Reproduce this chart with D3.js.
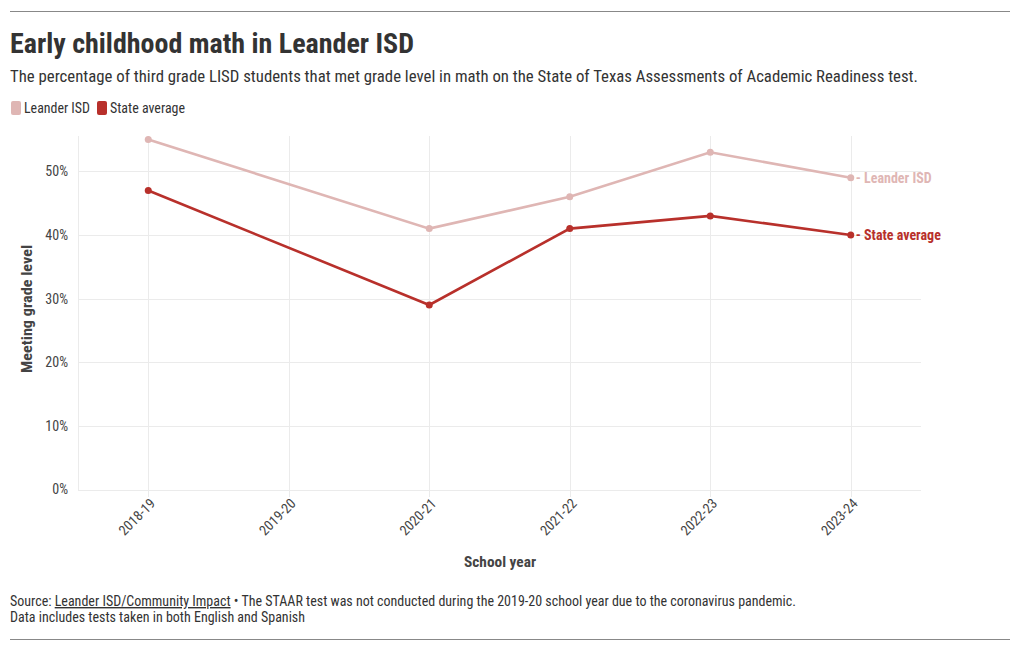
<!DOCTYPE html>
<html><head><meta charset="utf-8">
<script src="https://cdn.jsdelivr.net/npm/d3@7"></script>
<style>
body{margin:0;background:#fff;}
svg text{font-family:"Roboto Condensed","Liberation Sans Narrow",Roboto,sans-serif;}
</style></head>
<body><svg id="c" width="1020" height="650"></svg>
<script>
const categories = ["2018-19","2019-20","2020-21","2021-22","2022-23","2023-24"];
const leanderYears = ["2018-19","2020-21","2021-22","2022-23","2023-24"];
const leanderValues = [55,41,46,53,49];
const stateYears = ["2018-19","2020-21","2021-22","2022-23","2023-24"];
const stateValues = [47,29,41,43,40];
const yTicks = [0,10,20,30,40,50];
const seriesNames = ["Leander ISD","State average"];
const seriesColors = ["#dfb6b4","#b8302b"];

const svg = d3.select("#c");
function fit(sel, w){ sel.attr("textLength", w).attr("lengthAdjust","spacingAndGlyphs"); }

svg.append("line").attr("x1",10).attr("x2",1010).attr("y1",11.5).attr("y2",11.5).attr("stroke","#888").attr("stroke-width",1);
svg.append("line").attr("x1",10).attr("x2",1010).attr("y1",639.5).attr("y2",639.5).attr("stroke","#888").attr("stroke-width",1);

svg.append("text").attr("x",10).attr("y",53).attr("font-size",28).attr("font-weight",700).attr("fill","#333")
  .text("Early childhood math in Leander ISD").call(fit,404);
svg.append("text").attr("x",10).attr("y",82).attr("font-size",16).attr("fill","#333")
  .text("The percentage of third grade LISD students that met grade level in math on the State of Texas Assessments of Academic Readiness test.").call(fit,908);

const legX = [11,97];
const legW = [79,88];
seriesNames.forEach((n,i)=>{
  svg.append("rect").attr("x",legX[i]).attr("y",101).attr("width",10).attr("height",14).attr("rx",2).attr("fill",seriesColors[i]);
  svg.append("text").attr("x",legX[i]+13).attr("y",113).attr("font-size",14).attr("fill","#333").text(n).call(fit,legW[i]-13);
});

const x = d3.scalePoint().domain(categories).range([78,921]).padding(0.5);
const y = d3.scaleLinear().domain([0,55.4]).range([489.5,137]);

const g = svg.append("g");
g.selectAll(".hg").data(yTicks).join("line").attr("x1",78).attr("x2",921)
  .attr("y1",d=>Math.round(y(d))+0.5).attr("y2",d=>Math.round(y(d))+0.5).attr("stroke","#ebebeb");
g.selectAll(".vg").data(categories).join("line").attr("y1",136).attr("y2",497)
  .attr("x1",d=>Math.round(x(d))+0.5).attr("x2",d=>Math.round(x(d))+0.5).attr("stroke","#ebebeb");
g.append("line").attr("x1",78.5).attr("x2",78.5).attr("y1",136).attr("y2",490).attr("stroke","#ebebeb");

const yAxis = g.append("g").attr("transform","translate(78,0)")
  .call(d3.axisLeft(y).tickValues(yTicks).tickFormat(d=>d+"%").tickSize(0).tickPadding(10));
yAxis.select(".domain").remove();
yAxis.selectAll("text").attr("font-size",14).attr("fill","#444").attr("font-family",null);

const xAxis = g.append("g").attr("transform","translate(0,497)")
  .call(d3.axisBottom(x).tickSize(0).tickPadding(0));
xAxis.select(".domain").remove();
xAxis.selectAll("text").attr("font-size",14).attr("fill","#444").attr("font-family",null)
  .attr("text-anchor","end").attr("dy","0.35em").attr("transform","translate(4,4) rotate(-45)");

svg.append("text").attr("transform","translate(32,309) rotate(-90)").attr("text-anchor","middle")
  .attr("font-size",15).attr("font-weight",700).attr("fill","#444").text("Meeting grade level").call(fit,128);
svg.append("text").attr("x",500).attr("y",567).attr("text-anchor","middle")
  .attr("font-size",15).attr("font-weight",700).attr("fill","#444").text("School year").call(fit,72);

const line = d3.line().x(d=>x(d[0])).y(d=>y(d[1]));
const series = [
  {name:seriesNames[0], color:seriesColors[0], data:leanderYears.map((c,i)=>[c,leanderValues[i]])},
  {name:seriesNames[1], color:seriesColors[1], data:stateYears.map((c,i)=>[c,stateValues[i]])}
];
series.forEach(s=>{
  g.append("path").attr("d",line(s.data)).attr("fill","none").attr("stroke",s.color).attr("stroke-width",2.6);
  g.selectAll(null).data(s.data).join("circle").attr("cx",d=>x(d[0])).attr("cy",d=>y(d[1])).attr("r",3.5).attr("fill",s.color);
  const last = s.data[s.data.length-1];
  g.append("text").attr("x",x(last[0])+5).attr("y",y(last[1])).attr("dy","0.35em")
    .attr("font-size",14).attr("font-weight",700).attr("fill",s.color).text("- "+s.name);
});

const src = svg.append("text").attr("x",10).attr("y",606).attr("font-size",14).attr("fill","#333");
src.append("tspan").text("Source: ");
src.append("tspan").attr("text-decoration","underline").text("Leander ISD/Community Impact");
src.append("tspan").text(" \u2022 The STAAR test was not conducted during the 2019-20 school year due to the coronavirus pandemic.");
fit(src,786);
svg.append("text").attr("x",10).attr("y",622).attr("font-size",14).attr("fill","#333")
  .text("Data includes tests taken in both English and Spanish").call(fit,295);
</script></body></html>
